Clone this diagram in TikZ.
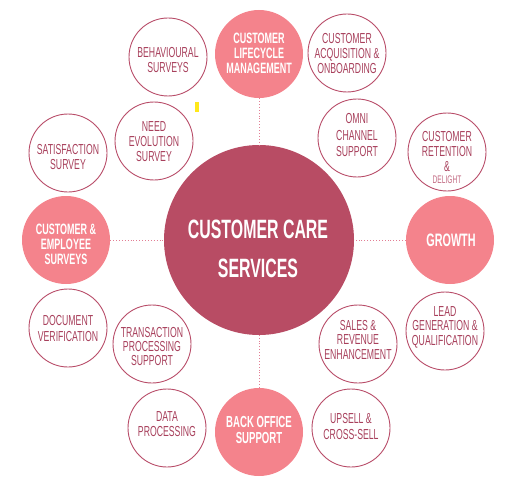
\documentclass[tikz,border=0pt]{standalone}
\usepackage{fontspec}
\newfontfamily\cond[FakeStretch=0.6]{Liberation Sans}
\definecolor{core}{HTML}{B84C64}
\definecolor{hub}{HTML}{F4838C}
\definecolor{ring}{HTML}{B84C68}
\definecolor{ink}{HTML}{A8405C}
\definecolor{soft}{HTML}{C26A82}
\definecolor{dots}{HTML}{E27E94}
\definecolor{yelmark}{HTML}{FFE81A}
\begin{document}
\begin{tikzpicture}[x=1pt,y=-1pt,
  corec/.style={circle,fill=core,minimum size=190pt,inner sep=0pt},
  hubc/.style={circle,fill=hub,minimum size=88pt,inner sep=0pt},
  ringc/.style={circle,draw=ring,line width=0.9pt,fill=white,minimum size=78pt,inner sep=0pt},
  ringt/.style={align=center,text=ink,font=\cond\fontsize{14.5}{15}\selectfont,inner sep=0pt},
  hubt/.style={align=center,text=white,font=\cond\bfseries\fontsize{15}{15}\selectfont,inner sep=0pt},
  coret/.style={align=center,text=white,font=\cond\bfseries\fontsize{26.5}{39}\selectfont,inner sep=0pt},
  link/.style={draw=dots,line width=0.9pt,dotted}]
\useasboundingbox (0,0) rectangle (510,489);

% core and hubs
\node[corec] (core) at (259,240) {};
\node[coret] (coret) at (258,249) {CUSTOMER CARE\\SERVICES};

\node[hubc] (clm) at (259,54) {};
\node[hubt] (clmt) at (259,53) {CUSTOMER\\LIFECYCLE\\MANAGEMENT};
\node[hubc] (grw) at (450,240) {};
\node[hubt,font=\cond\bfseries\fontsize{18}{18}\selectfont] (grwt) at (451,240) {GROWTH};
\node[hubc] (ces) at (66,240) {};
\node[hubt] (cest) at (66,244) {CUSTOMER \&\\EMPLOYEE\\SURVEYS};
\node[hubc] (bos) at (259,432) {};
\node[hubt,font=\cond\bfseries\fontsize{16}{16}\selectfont] (bost) at (259,430) {BACK OFFICE\\SUPPORT};

% dotted links
\draw[link] (clm) -- (core);
\draw[link] (bos) -- (core);
\draw[link] (ces) -- (core);
\draw[link] (grw) -- (core);

% outline circles
\node[ringc] (beh) at (168,57) {};
\node[ringt] (beht) at (168,60) {BEHAVIOURAL\\SURVEYS};
\node[ringc] (need) at (154,141) {};
\node[ringt] (needt) at (154,142) {NEED\\EVOLUTION\\SURVEY};
\node[ringc] (sat) at (68,153) {};
\node[ringt] (satt) at (68,157) {SATISFACTION\\SURVEY};
\node[ringc] (acq) at (347,53) {};
\node[ringt] (acqt) at (347,53.5) {CUSTOMER\\ACQUISITION \&\\ONBOARDING};
\node[ringc] (omni) at (357,138) {};
\node[ringt,font=\cond\fontsize{14.5}{16.5}\selectfont] (omnit) at (357,135.5) {OMNI\\CHANNEL\\SUPPORT};
\node[ringc] (ret) at (447,152) {};
\node[ringt] (rett) at (447,151.5) {CUSTOMER\\RETENTION\\\&};
\node[ringt,text=soft,font=\cond\fontsize{11}{11}\selectfont] (retd) at (447,180) {DELIGHT};
\node[ringc] (doc) at (68,328) {};
\node[ringt,font=\cond\fontsize{14.5}{16}\selectfont] (doct) at (68,329) {DOCUMENT\\VERIFICATION};
\node[ringc] (trn) at (152,344) {};
\node[ringt,font=\cond\fontsize{14.5}{14}\selectfont] (trnt) at (152,347) {TRANSACTION\\PROCESSING\\SUPPORT};
\node[ringc] (dat) at (167,428) {};
\node[ringt] (datt) at (167,424.5) {DATA\\PROCESSING};
\node[ringc] (sal) at (358,344) {};
\node[ringt,font=\cond\fontsize{14.5}{14.5}\selectfont] (salt) at (358,340) {SALES \&\\REVENUE\\ENHANCEMENT};
\node[ringc] (lead) at (445,331) {};
\node[ringt,font=\cond\fontsize{14.5}{14.5}\selectfont] (leadt) at (445,327) {LEAD\\GENERATION \&\\QUALIFICATION};
\node[ringc] (ups) at (351,428) {};
\node[ringt,font=\cond\fontsize{14.5}{16}\selectfont] (upst) at (351,427) {UPSELL \&\\CROSS-SELL};

% small yellow mark
\fill[yelmark] (195,102) rectangle (199,112);
\end{tikzpicture}
\end{document}
